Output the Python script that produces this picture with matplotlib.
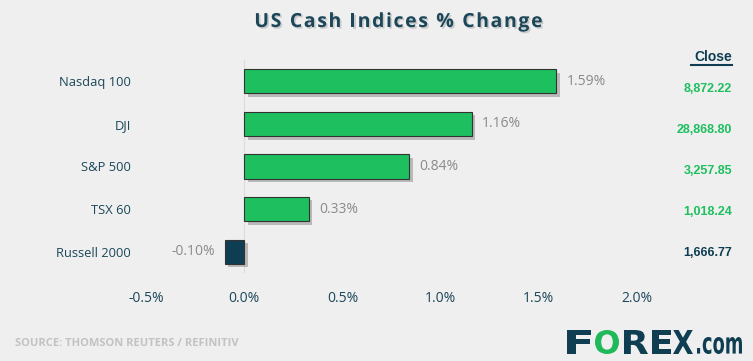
import matplotlib
matplotlib.use("Agg")
import matplotlib.pyplot as plt
import matplotlib.patheffects as pe
from matplotlib.font_manager import FontProperties
from matplotlib.textpath import TextPath
from matplotlib.patches import PathPatch
from matplotlib.transforms import Affine2D, IdentityTransform

categories = ["Nasdaq 100", "DJI", "S&P 500", "TSX 60", "Russell 2000"]
changes = [1.59, 1.16, 0.84, 0.33, -0.10]
closes = ["8,872.22", "28,868.80", "3,257.85", "1,018.24", "1,666.77"]
xticks = [-0.5, 0.0, 0.5, 1.0, 1.5, 2.0]
xtick_labels = ["-0.5%", "0.0%", "0.5%", "1.0%", "1.5%", "2.0%"]
title = "US Cash Indices % Change"

BG = "#efefef"
GREEN = "#1dbf5e"
DARK = "#0f3e52"
TEXT = "#1b4759"
GRAY = "#8a8a8a"

W, H = 753, 361
fig = plt.figure(figsize=(7.53, 3.61), dpi=100, facecolor=BG)
ax = fig.add_axes([146/W, 1-273/H, (637-146)/W, 213/H])
ax.set_facecolor(BG)

ypos = list(range(len(categories)))
colors = [GREEN if v >= 0 else DARK for v in changes]
bars = ax.barh(ypos, changes, height=0.57, color=colors, edgecolor="#333333", linewidth=0.8, zorder=3)
for b in bars:
    b.set_path_effects([pe.SimplePatchShadow(offset=(2.5, -2.5), shadow_rgbFace="#555555", alpha=0.35), pe.Normal()])

ax.axvline(0, color="#dcdcdc", linewidth=0.8, zorder=1)
ax.set_xlim(-0.5, 2.0)
ax.set_ylim(4.5, -0.5)
ax.set_xticks(xticks)
ax.set_xticklabels(xtick_labels, fontsize=10, color=TEXT, fontfamily="Open Sans")
ax.set_yticks(ypos)
ax.set_yticklabels(categories, fontsize=9.3, color=TEXT, fontfamily="Open Sans")
ax.tick_params(axis="x", length=0, pad=13)
ax.tick_params(axis="y", length=0, pad=11)
for s in ax.spines.values():
    s.set_visible(False)

for y, v in zip(ypos, changes):
    if v >= 0:
        ax.text(v + 0.05, y, f"{v:.2f}%", va="center", ha="left", fontsize=10, color=GRAY, fontfamily="Open Sans")
    else:
        ax.text(v - 0.05, y, f"{v:.2f}%", va="center", ha="right", fontsize=10, color=GRAY, fontfamily="Open Sans")

# Close column
close_ys = [89, 130, 171, 212, 253]
for i, (c, v) in enumerate(zip(closes, changes)):
    col = GREEN if v >= 0 else DARK
    fig.text(732/W, 1 - close_ys[i]/H, c, ha="right", va="center", fontsize=9,
             fontweight="bold", color=col, fontfamily="Liberation Sans")
fig.text(732/W, 1 - 57/H, "Close", ha="right", va="center", fontsize=10,
         fontweight="bold", color=DARK, fontfamily="Liberation Sans")
fig.add_artist(plt.Line2D([691/W, 732/W], [1-65/H, 1-65/H], color=DARK, linewidth=1.5))

# Title with letter tracking
renderer = fig.canvas.get_renderer()
tprop = FontProperties(family="Open Sans", weight="bold", size=14)
def tw(s):
    w, _, _ = renderer.get_text_width_height_descent(s, tprop, ismath=False)
    return w
space_w = tw("a a") - tw("aa")
widths = [space_w if ch == " " else tw(ch) for ch in title]
track = 1.6
total = sum(widths) + track * (len(title) - 1)
x = 255 + (287 - total) / 2
for ch, w in zip(title, widths):
    if ch != " ":
        fig.text(x / W, 1 - 27/H, ch, ha="left", va="baseline", fontproperties=tprop, color=TEXT,
                 path_effects=[pe.withSimplePatchShadow(offset=(1.2, -1.2), shadow_rgbFace="#888888", alpha=0.35)])
    x += w + track

# Source
fig.text(15/W, 1 - 343/H, "SOURCE: THOMSON REUTERS / REFINITIV", ha="left", va="center",
         fontsize=8, fontweight="bold", color="#c2c2c2", fontfamily="Open Sans")

# Logo: glyph paths fitted into boxes (pixel coords, top-left origin)
lfont = FontProperties(family="DejaVu Sans", weight="bold")
def fit_glyph(s, x0, x1, ytop, ybot, color):
    p = TextPath((0, 0), s, size=1, prop=lfont)
    ext = p.get_extents()
    sx = (x1 - x0) / ext.width
    sy = (ybot - ytop) / ext.height
    tr = Affine2D().translate(-ext.x0, -ext.y0).scale(sx, sy).translate(x0, H - ybot)
    patch = PathPatch(tr.transform_path(p), facecolor=color, edgecolor="none",
                      transform=IdentityTransform())
    fig.add_artist(patch)

for ch, x0, x1, col in [("F", 567, 591, DARK), ("O", 595, 619, "#1fb85a"), ("R", 624, 648, DARK),
                        ("E", 652, 671, DARK), ("X", 673, 693, DARK)]:
    fit_glyph(ch, x0, x1, 330, 354, col)
fit_glyph(".com", 697, 742, 337, 354, DARK)

fig.savefig("out.png", dpi=100, facecolor=BG)
